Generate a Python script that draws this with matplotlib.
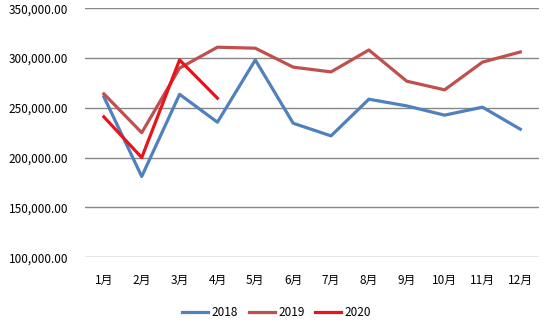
import matplotlib
matplotlib.use("Agg")
import matplotlib.pyplot as plt
from matplotlib.ticker import FuncFormatter

plt.rcParams['font.family'] = ['Noto Sans CJK SC', 'DejaVu Sans']

months = ["1月", "2月", "3月", "4月", "5月", "6月", "7月", "8月", "9月", "10月", "11月", "12月"]
sales_2018 = [261000, 181000, 263500, 235500, 298000, 234500, 221800, 258600, 251900, 242600, 250600, 228500]
sales_2019 = [264000, 225000, 289800, 310800, 309800, 290800, 286000, 308000, 276700, 268000, 295800, 306000]
sales_2020 = [240900, 200000, 298000, 259600]

fig = plt.figure(figsize=(5.48, 3.26), dpi=100)
ax = fig.add_axes([0.155, 0.211, 0.829, 0.764])

x = list(range(len(months)))
ax.plot(x, sales_2018, color='#4F81BD', lw=2.3, label='2018')
ax.plot(x, sales_2019, color='#C0504D', lw=2.3, label='2019')
ax.plot(x[:len(sales_2020)], sales_2020, color='#E8141B', lw=2.3, label='2020')

ax.set_xlim(-0.5, len(months) - 0.5)
ax.set_ylim(100000, 350000)
ax.set_yticks(range(100000, 350001, 50000))
ax.yaxis.set_major_formatter(FuncFormatter(lambda v, p: f"{v:,.2f}"))
ax.set_xticks(x)
ax.set_xticklabels(months)
ax.grid(axis='y', color='#878787', lw=1)
ax.set_axisbelow(True)
for s in ax.spines.values():
    s.set_visible(False)
ax.tick_params(length=0, labelsize=8.5, colors='black')
ax.tick_params(axis='y', pad=12)
ax.tick_params(axis='x', pad=12)

fig.legend(loc='lower center', bbox_to_anchor=(0.505, -0.01), ncol=3, frameon=False,
           fontsize=8.5, handlelength=2.2, handletextpad=0.3, columnspacing=0.9)

fig.savefig("out.png", dpi=100)
